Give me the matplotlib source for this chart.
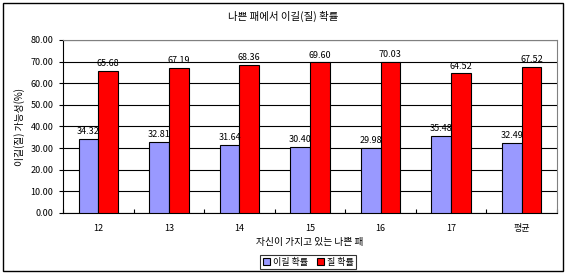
import matplotlib
matplotlib.use("Agg")
import matplotlib.pyplot as plt
import numpy as np
from matplotlib.patches import Rectangle

plt.rcParams['font.family'] = ['Noto Sans CJK KR', 'DejaVu Sans']

categories = ["12", "13", "14", "15", "16", "17", "평균"]
win = [34.32, 32.81, 31.64, 30.40, 29.98, 35.48, 32.49]
lose = [65.68, 67.19, 68.36, 69.60, 70.03, 64.52, 67.52]
yticks = [0, 10, 20, 30, 40, 50, 60, 70, 80]

fig = plt.figure(figsize=(5.67, 2.75), dpi=100)
ax = fig.add_axes([63/567, 1-213/275, (557-63)/567, (213-40)/275])

x = np.arange(len(categories))
w = 0.28
b1 = ax.bar(x - w/2, win, w, color="#9999FF", edgecolor="black", linewidth=0.8, label="이길 확률", zorder=3)
b2 = ax.bar(x + w/2, lose, w, color="#FF0000", edgecolor="black", linewidth=0.8, label="질 확률", zorder=3)

for rects, vals in ((b1, win), (b2, lose)):
    for r, v in zip(rects, vals):
        ax.annotate(f"{v:.2f}", (r.get_x() + r.get_width()/2, v), xytext=(0, 2),
                    textcoords="offset points", ha="center", va="bottom", fontsize=6.5)

ax.set_xlim(-0.5, len(categories) - 0.5)
ax.set_ylim(0, 80)
ax.set_yticks(yticks)
ax.set_yticklabels([f"{t:.2f}" for t in yticks], fontsize=6.5)
ax.yaxis.grid(True, color="black", linewidth=0.8, zorder=0)
ax.set_xticks(x)
ax.set_xticklabels(categories, fontsize=6.5)
ax.tick_params(axis="x", length=0, pad=8)
ax.tick_params(axis="y", length=3, width=0.8, pad=4)
ax.set_xticks(np.arange(len(categories) + 1) - 0.5, minor=True)
ax.tick_params(axis="x", which="minor", length=3, direction="in", width=0.8)
for s in ("top", "right"):
    ax.spines[s].set_color("#808080")
for s in ("left", "bottom"):
    ax.spines[s].set_color("black")

ax.set_xlabel("자신이 가지고 있는 나쁜 패", fontsize=7, labelpad=3)
ax.set_ylabel("이길(질) 가능성(%)", fontsize=7, labelpad=4)
fig.text(0.5, 1 - 16/275, "나쁜 패에서 이길(질) 확률", ha="center", va="center", fontsize=7.5)

leg = ax.legend(loc="center", bbox_to_anchor=(308/567, 1 - 262/275), bbox_transform=fig.transFigure,
                ncol=2, fontsize=6.5, frameon=True, fancybox=False, edgecolor="black",
                handlelength=0.8, handleheight=0.8, handletextpad=0.3, columnspacing=1.0,
                borderpad=0.25, borderaxespad=0)
leg.get_frame().set_linewidth(0.8)

fig.patches.append(Rectangle((3/567, 1 - 271/275), 560/567, 268/275, transform=fig.transFigure,
                             fill=False, edgecolor="black", linewidth=1.0))

fig.savefig("out.png", dpi=100)
